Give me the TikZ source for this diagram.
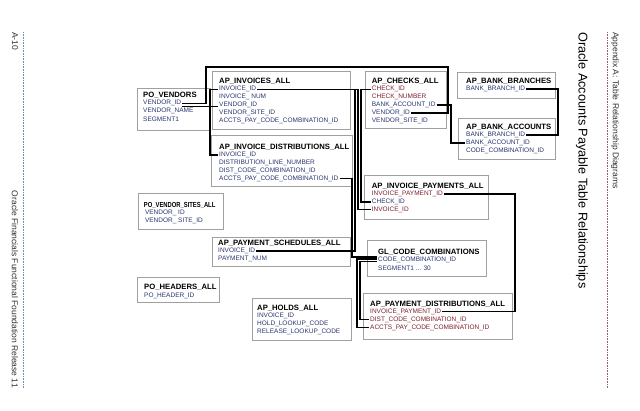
\documentclass[tikz,border=0pt]{standalone}
\usepackage{fontspec}
\setmainfont{Liberation Sans}
\usetikzlibrary{positioning}
\definecolor{fieldblue}{HTML}{27336E}
\definecolor{fieldred}{HTML}{7A1F2B}
\definecolor{boxgray}{HTML}{A0A0A0}
\definecolor{pagetext}{HTML}{303030}
\definecolor{rulered}{HTML}{9A6070}
\definecolor{ruleblue}{HTML}{6A8CC8}

\begin{document}
\begin{tikzpicture}[x=1pt, y=-1pt, node distance=7.9pt,
	tablebox/.style={draw=boxgray, line width=0.9pt, anchor=north west, inner sep=0pt},
	tabletitle/.style={anchor=west, inner sep=1pt, font=\bfseries\fontsize{7.7}{8}\selectfont},
	field/.style={anchor=west, inner sep=1pt, text=fieldblue, font=\fontsize{6.5}{7}\selectfont},
	keyfield/.style={field, text=fieldred},
	rowbelow/.style={below=of #1.west, anchor=west},
	link/.style={draw, line width=1.3pt},
	sidetext/.style={rotate=-90, inner sep=0pt, text=pagetext, font=\fontsize{8.5}{9}\selectfont}]
				\useasboundingbox (0,0) rectangle (640,410);
				
				% Page margins (left and right)
				\draw[ruleblue, densely dotted, line width=0.6pt] (23,32) -- (23,388);
				\draw[rulered, densely dotted, line width=0.6pt] (607,32) -- (607,388);
				\node (pageNum) [sidetext, anchor=west] at (15,32) {A-10};
				\node (release) [sidetext, anchor=east] at (15,388) {Oracle Financials Functional Foundation Release 11};
				\node (appendix) [sidetext, anchor=west] at (615,32) {Appendix A: Table Relationship Diagrams};
				\node (pageTitle) [sidetext, anchor=west, text=black, font=\fontsize{12.7}{14}\selectfont] at (582,32) {Oracle Accounts Payable Table Relationships};
				
				% Vendor tables (left)
				\node (poVendors) [tablebox, minimum width=73pt, minimum height=42pt] at (137,88) {};
				\node (pvTitle) [tabletitle] at (142,95.4) {PO\_VENDORS};
				\node (pvVendorId) [field, rowbelow=pvTitle] {VENDOR\_ID};
				\node (pvVendorName) [field, rowbelow=pvVendorId] {VENDOR\_NAME};
				\node (pvSegment) [field, rowbelow=pvVendorName] {SEGMENT1};
				
				\node (poVendorSites) [tablebox, minimum width=85pt, minimum height=36pt] at (138,193) {};
				\node (vsTitle) [tabletitle, xscale=0.8, font=\bfseries\fontsize{7.3}{8}\selectfont] at (143,205.1) {PO\_VENDOR\_SITES\_ALL};
				\node (vsVendorId) [field, below=of vsTitle.west, anchor=west, xshift=0.8pt] {VENDOR\_ ID};
				\node (vsSiteId) [field, rowbelow=vsVendorId] {VENDOR\_ SITE\_ID};
				
				\node (poHeaders) [tablebox, minimum width=82pt, minimum height=25pt] at (137,277) {};
				\node (phTitle) [tabletitle] at (143,287.6) {PO\_HEADERS\_ALL};
				\node (phHeaderId) [field, rowbelow=phTitle] {PO\_HEADER\_ID};
				
				% Invoice tables (middle)
				\node (apInvoices) [tablebox, minimum width=138pt, minimum height=58pt] at (212,71) {};
				\node (invTitle) [tabletitle] at (218,81.4) {AP\_INVOICES\_ALL};
				\node (invInvoiceId) [field, rowbelow=invTitle] {INVOICE\_ID};
				\node (invInvoiceNum) [field, rowbelow=invInvoiceId] {INVOICE\_ NUM};
				\node (invVendorId) [field, rowbelow=invInvoiceNum] {VENDOR\_ID};
				\node (invSiteId) [field, rowbelow=invVendorId] {VENDOR\_SITE\_ID};
				\node (invAcctsPay) [field, rowbelow=invSiteId] {ACCTS\_PAY\_CODE\_COMBINATION\_ID};
				
				\node (apInvDist) [tablebox, minimum width=141pt, minimum height=51pt] at (211,135) {};
				\node (idTitle) [tabletitle] at (218,147.1) {AP\_INVOICE\_DISTRIBUTIONS\_ALL};
				\node (idInvoiceId) [field, rowbelow=idTitle] {INVOICE\_ID};
				\node (idLineNum) [field, rowbelow=idInvoiceId] {DISTRIBUTION\_LINE\_NUMBER};
				\node (idDistCode) [field, rowbelow=idLineNum] {DIST\_CODE\_COMBINATION\_ID};
				\node (idAcctsPay) [field, rowbelow=idDistCode] {ACCTS\_PAY\_CODE\_COMBINATION\_ID};
				
				\node (apPaySched) [tablebox, minimum width=138pt, minimum height=29pt] at (212,237) {};
				\node (psTitle) [tabletitle] at (217,243.1) {AP\_PAYMENT\_SCHEDULES\_ALL};
				\node (psInvoiceId) [field, rowbelow=psTitle] {INVOICE\_ID};
				\node (psPaymentNum) [field, rowbelow=psInvoiceId] {PAYMENT\_NUM};
				
				\node (apHolds) [tablebox, minimum width=99pt, minimum height=42pt] at (252,298) {};
				\node (hoTitle) [tabletitle] at (256,308.1) {AP\_HOLDS\_ALL};
				\node (hoInvoiceId) [field, rowbelow=hoTitle] {INVOICE\_ID};
				\node (hoHoldCode) [field, rowbelow=hoInvoiceId] {HOLD\_LOOKUP\_CODE};
				\node (hoReleaseCode) [field, rowbelow=hoHoldCode] {RELEASE\_LOOKUP\_CODE};
				
				% Payment tables (right)
				\node (apChecks) [tablebox, minimum width=81pt, minimum height=57pt] at (365,71) {};
				\node (ckTitle) [tabletitle] at (370.7,81.4) {AP\_CHECKS\_ALL};
				\node (ckCheckId) [keyfield, rowbelow=ckTitle] {CHECK\_ID};
				\node (ckCheckNum) [keyfield, rowbelow=ckCheckId] {CHECK\_NUMBER};
				\node (ckBankAcctId) [field, rowbelow=ckCheckNum] {BANK\_ACCOUNT\_ID};
				\node (ckVendorId) [field, rowbelow=ckBankAcctId] {VENDOR\_ID};
				\node (ckSiteId) [field, rowbelow=ckVendorId] {VENDOR\_SITE\_ID};
				
				\node (apBankBranches) [tablebox, minimum width=98pt, minimum height=26pt] at (457,72) {};
				\node (bbTitle) [tabletitle] at (465,81.1) {AP\_BANK\_BRANCHES};
				\node (bbBranchId) [field, rowbelow=bbTitle] {BANK\_BRANCH\_ID};
				
				\node (apBankAccounts) [tablebox, minimum width=97pt, minimum height=41pt] at (458,118) {};
				\node (baTitle) [tabletitle] at (465,127.1) {AP\_BANK\_ACCOUNTS};
				\node (baBranchId) [field, rowbelow=baTitle] {BANK\_BRANCH\_ID};
				\node (baBankAcctId) [field, rowbelow=baBranchId] {BANK\_ACCOUNT\_ID};
				\node (baCodeCombId) [field, rowbelow=baBankAcctId] {CODE\_COMBINATION\_ID};
				
				\node (apInvPay) [tablebox, minimum width=124pt, minimum height=44pt] at (364,175) {};
				\node (ipTitle) [tabletitle] at (370.7,186.1) {AP\_INVOICE\_PAYMENTS\_ALL};
				\node (ipPaymentId) [keyfield, rowbelow=ipTitle] {INVOICE\_PAYMENT\_ID};
				\node (ipCheckId) [field, rowbelow=ipPaymentId] {CHECK\_ID};
				\node (ipInvoiceId) [keyfield, rowbelow=ipCheckId] {INVOICE\_ID};
				
				\node (glCodeComb) [tablebox, minimum width=119pt, minimum height=36pt] at (367,240) {};
				\node (glTitle) [tabletitle] at (377,252.1) {GL\_CODE\_COMBINATIONS};
				\node (glCodeCombId) [field, rowbelow=glTitle] {CODE\_COMBINATION\_ID};
				\node (glSegments) [field, rowbelow=glCodeCombId] {SEGMENT1 ... 30};
				
				\node (apPayDist) [tablebox, minimum width=149pt, minimum height=46pt] at (363,293) {};
				\node (pdTitle) [tabletitle] at (369,303.8) {AP\_PAYMENT\_DISTRIBUTIONS\_ALL};
				\node (pdPaymentId) [keyfield, rowbelow=pdTitle] {INVOICE\_PAYMENT\_ID};
				\node (pdDistCode) [keyfield, rowbelow=pdPaymentId] {DIST\_CODE\_COMBINATION\_ID};
				\node (pdAcctsPay) [keyfield, rowbelow=pdDistCode] {ACCTS\_PAY\_CODE\_COMBINATION\_ID};
				
				% Bends of the links
				\coordinate (vendTopL) at (206,67);
				\coordinate (vendTopR) at (448,67);
				\coordinate (busInvL) at (210,0);
				\coordinate (busAcct) at (352,0);
				\coordinate (busSched) at (355,0);
				\coordinate (busGlA) at (357,0);
				\coordinate (busPay) at (358,0);
				\coordinate (busGlB) at (360,0);
				\coordinate (busCheck) at (361,0);
				\coordinate (busBank) at (451,0);
				\coordinate (busPayId) at (515,0);
				\coordinate (busBranch) at (558,0);
				
				\draw[link] (pvVendorId.east) -| (vendTopL) -- (vendTopR) |- (ckVendorId.east);
				\draw[link] ([yshift=-3pt]pvVendorId.east) -- ([yshift=-3pt]pvVendorId.east -| invVendorId.west);
				\draw[link] (invInvoiceId.west) -- (invInvoiceId.west -| busInvL) |- (idInvoiceId.west);
				\draw[link] (invInvoiceId.east) -- (invInvoiceId.east -| busSched) |- (psInvoiceId.east);
				\draw[link] (invInvoiceId.east) -- (invInvoiceId.east -| busPay) |- (ipInvoiceId.west);
				\draw[link] (ckCheckId.west) -- (ckCheckId.west -| busCheck) |- (ipCheckId.west);
				\draw[link] (idAcctsPay.east) -- (idAcctsPay.east -| busAcct) |- ([yshift=3pt]glCodeCombId.west);
				\draw[link] ([yshift=1pt]glCodeCombId.west) -- ([yshift=1pt]glCodeCombId.west -| busGlA) |- (pdAcctsPay.west);
				\draw[link] ([yshift=-1.5pt]glCodeCombId.west) -- ([yshift=-1.5pt]glCodeCombId.west -| busGlB) |- (pdDistCode.west);
				\draw[link] (ckBankAcctId.east) -- (ckBankAcctId.east -| busBank) |- (baBankAcctId.west);
				\draw[link] (bbBranchId.east) -- (bbBranchId.east -| busBranch) |- (baBranchId.east);
				\draw[link] (ipPaymentId.east) -- (ipPaymentId.east -| busPayId) |- (pdPaymentId.east);
			\end{tikzpicture}
\end{document}
